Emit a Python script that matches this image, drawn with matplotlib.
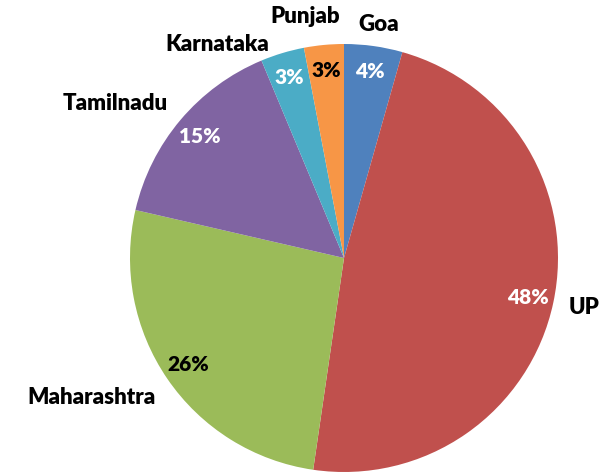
import matplotlib
matplotlib.use('Agg')
import matplotlib.pyplot as plt

# Données
states = ['Goa', 'UP', 'Maharashtra', 'Tamilnadu', 'Karnataka', 'Punjab']
shares = [4.4, 47.9, 26.3, 15.1, 3.3, 3.0]
colors = ['#4F81BD', '#C0504D', '#9BBB59', '#8064A2', '#4BACC6', '#F79646']
pct_colors = ['white', 'white', 'black', 'white', 'white', 'black']

# positions des étiquettes (unités du rayon)
label_xy = [(0.16, 1.09), (1.12, -0.23), (-1.18, -0.65),
            (-1.07, 0.72), (-0.59, 1.00), (-0.18, 1.13)]

plt.rcParams['font.family'] = ['Lato', 'DejaVu Sans']

fig = plt.figure(figsize=(6.08, 4.74), dpi=100)
r = 214
cx, cy = 344, 474 - 258
ax = fig.add_axes([(cx - r) / 608, (cy - r) / 474, 2 * r / 608, 2 * r / 474])

wedges, texts, autotexts = ax.pie(
    shares, labels=states, colors=colors, startangle=90, counterclock=False,
    autopct='%1.0f%%', pctdistance=0.88, labeldistance=1.1,
    textprops={'fontsize': 16, 'fontweight': 'heavy'})

for t, xy in zip(texts, label_xy):
    t.set_position(xy)
    t.set_ha('center')
    t.set_va('center')

for t, c in zip(autotexts, pct_colors):
    t.set_color(c)
    t.set_fontsize(15)

ax.set_xlim(-1, 1)
ax.set_ylim(-1, 1)
ax.set_aspect('equal')
ax.axis('off')

fig.savefig('out.png', dpi=100)
